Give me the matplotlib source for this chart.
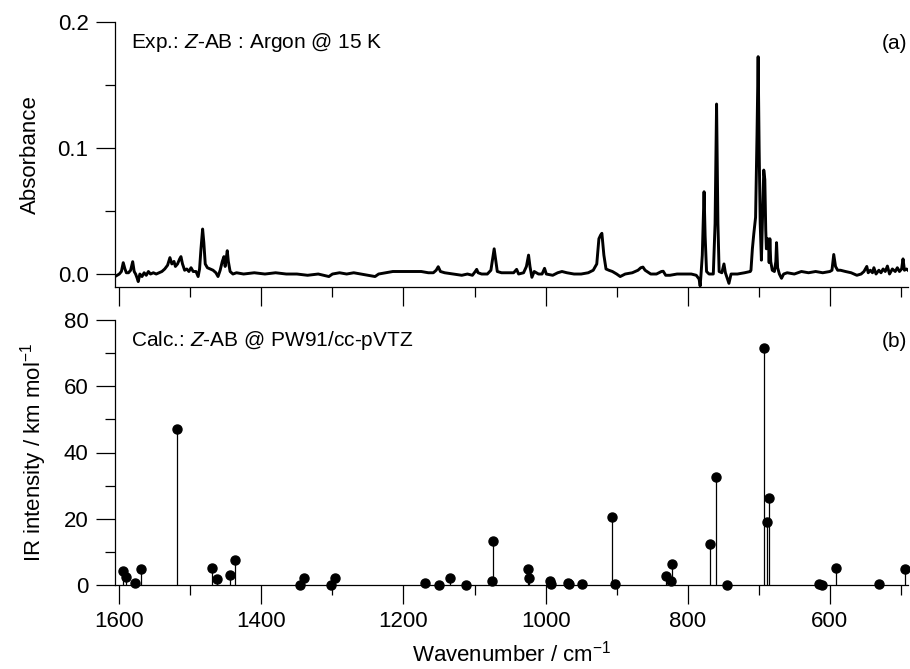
import matplotlib
matplotlib.use("Agg")
import matplotlib.pyplot as plt
from matplotlib.ticker import MultipleLocator

plt.rcParams['font.family'] = ['Liberation Sans', 'DejaVu Sans']
plt.rcParams['mathtext.fontset'] = 'custom'
plt.rcParams['mathtext.rm'] = 'Liberation Sans'
plt.rcParams['mathtext.it'] = 'Liberation Sans:italic'

# ---- experimental spectrum (traced points: wavenumber, absorbance) ----
exp_wavenumber = [
    1606, 1600, 1597, 1594.4, 1592, 1590, 1587, 1584, 1581.1, 1579, 1577, 1575, 1573.3,
    1571, 1568, 1565, 1562, 1559, 1556, 1552, 1548, 1544, 1540, 1536, 1532, 1528.7,
    1526, 1523, 1521, 1518, 1515, 1513.2, 1511, 1508, 1505, 1502, 1499, 1496, 1492,
    1489, 1487, 1485, 1482.7, 1481, 1479, 1476, 1472, 1468, 1464, 1461, 1458, 1455,
    1452.7, 1451, 1449.5, 1448, 1446.5, 1444, 1440, 1435, 1425, 1410, 1395, 1380,
    1365, 1350, 1335, 1320, 1305, 1300, 1290, 1280, 1270, 1260, 1250, 1240, 1235,
    1225, 1215, 1200, 1185, 1175, 1165, 1158, 1154, 1151.1, 1148, 1142, 1130, 1118,
    1110, 1103, 1099, 1097, 1095, 1090, 1082, 1077, 1074.5, 1072.4, 1070, 1068, 1062,
    1050, 1045, 1040.8, 1038, 1031, 1027, 1024, 1022, 1019.3, 1016, 1010, 1005, 1001.5,
    999, 990, 983, 977, 970, 960, 950, 940, 933, 928, 925, 922.5, 920.8, 918, 915, 911,
    906, 900, 895, 888, 878, 870, 866, 863, 860, 852, 844, 837, 834.5, 831, 825, 815,
    805, 795, 788, 784, 782.5, 781, 779.5, 777, 775.5, 773.5, 770, 764, 761.5, 759.4,
    757.5, 755.8, 752, 749, 747, 742, 739, 730, 720, 712, 711, 709, 707, 704.5, 702.5,
    700.9, 699.5, 698, 696.3, 695, 693, 691.5, 690.2, 689.3, 687.5, 686.3, 685.4, 684.4,
    683.2, 681, 678, 676, 675, 673.5, 671, 668, 665, 660, 650, 640, 630, 620, 610, 600,
    597, 594.5, 592, 589, 585, 578, 570, 562, 556, 552, 548, 546, 543, 540, 538, 535,
    531, 528, 525, 522, 519, 516, 512, 508, 505, 502, 499, 497, 495, 492, 490]
exp_absorbance = [
    -0.002, 0.000, 0.002, 0.009, 0.004, 0.001, 0.001, 0.003, 0.0098, 0.002, 0.000, -0.003, -0.006,
    0.000, -0.002, 0.001, -0.001, 0.002, 0.000, 0.001, 0.000, 0.001, 0.002, 0.004, 0.007, 0.013,
    0.008, 0.010, 0.006, 0.008, 0.012, 0.0138, 0.008, 0.003, 0.004, 0.002, 0.005, 0.002, 0.002,
    -0.002, 0.004, 0.020, 0.0357, 0.025, 0.008, 0.005, 0.004, 0.003, 0.001, -0.002, 0.003, 0.010,
    0.0138, 0.006, 0.012, 0.0185, 0.010, 0.002, 0.000, 0.001, 0.000, 0.001, 0.000, 0.001,
    0.000, 0.000, -0.001, 0.000, -0.002, 0.000, 0.001, 0.000, 0.001, 0.000, -0.001, -0.002, 0.000,
    0.001, 0.002, 0.002, 0.002, 0.002, 0.001, 0.001, 0.003, 0.0058, 0.002, 0.001, 0.000, -0.001,
    0.000, -0.001, 0.002, 0.0037, 0.001, 0.000, 0.000, 0.003, 0.012, 0.020, 0.010, 0.002, 0.001,
    0.001, 0.001, 0.0037, 0.000, 0.001, 0.006, 0.015, 0.006, -0.0026, 0.002, 0.000, 0.000, 0.0045,
    0.000, -0.001, 0.001, 0.002, 0.001, 0.000, 0.000, 0.001, 0.003, 0.008, 0.028, 0.031, 0.0323, 0.015, 0.004, 0.003,
    0.002, 0.000, -0.002, 0.000, 0.001, 0.003, 0.005, 0.0055, 0.003, 0.000, 0.000, 0.002, 0.0022, -0.001, -0.001, 0.000,
    0.000, 0.000, -0.001, -0.004, -0.0095, 0.002, 0.015, 0.0653, 0.030, 0.002, 0.000, 0.000, 0.040, 0.1349,
    0.040, 0.002, 0.001, 0.008, 0.001, -0.0074, 0.000, 0.000, 0.001, 0.002, 0.003, 0.020, 0.032, 0.045, 0.110,
    0.1725, 0.100, 0.040, 0.011, 0.040, 0.0825, 0.075, 0.035, 0.020, 0.028, 0.025, 0.009, 0.028,
    0.010, 0.003, 0.002, 0.010, 0.0249, 0.005, 0.000, -0.0034, 0.000, 0.001, 0.000, 0.002, 0.001, 0.002, 0.001, 0.002,
    0.003, 0.0155, 0.006, 0.003, 0.003, 0.002, 0.001, -0.001, 0.000, 0.002, 0.006, 0.001, 0.003, 0.001, 0.005, 0.000,
    0.003, 0.001, 0.004, 0.002, 0.0063, 0.000, 0.004, 0.002, 0.005, 0.002, 0.004, 0.012, 0.003, 0.004, 0.003]

# ---- calculated stick spectrum ----
calc_wavenumber = [1595.2, 1590.6, 1577.5, 1569.9, 1519.2, 1469.1, 1462.5, 1444.2, 1437.6,
                   1346.2, 1339.7, 1301.7, 1296.1, 1170.3, 1150.2, 1135.1, 1111.7, 1076.0,
                   1073.8, 1024.5, 1023.5, 993.5, 992.5, 968.5, 967.5, 949.0, 906.7, 902.1,
                   831.2, 824.2, 821.9, 768.4, 760.0, 745.4, 692.4, 688.2, 686.3, 615.5,
                   610.8, 591.6, 530.6, 494.5]
calc_intensity = [4.3, 2.3, 0.5, 4.9, 47.1, 5.0, 1.7, 3.1, 7.5,
                  0.0, 2.2, 0.0, 2.0, 0.5, 0.1, 2.1, 0.1, 1.2,
                  13.2, 4.7, 2.1, 1.2, 0.3, 0.5, 0.2, 0.3, 20.6, 0.2,
                  2.6, 1.2, 6.2, 12.5, 32.7, 0.0, 71.6, 19.1, 26.4, 0.3,
                  0.0, 5.0, 0.2, 4.7]

xticks_major = [1600, 1400, 1200, 1000, 800, 600]

W, H = 910, 669
fig = plt.figure(figsize=(W / 100, H / 100), dpi=100)
L, R = 115, 908
ax1 = fig.add_axes([L / W, 1 - 287 / H, (R - L) / W, (287 - 22) / H])
ax2 = fig.add_axes([L / W, 1 - 585 / H, (R - L) / W, (585 - 320) / H])

ax1.plot(exp_wavenumber, exp_absorbance, color='black', lw=2.1, solid_joinstyle='round')
ax1.set_xlim(1606, 490)
ax1.set_ylim(-0.0103, 0.2)
ax1.yaxis.set_major_locator(MultipleLocator(0.1))
ax1.yaxis.set_minor_locator(MultipleLocator(0.05))
ax1.set_ylabel('Absorbance', fontsize=16, labelpad=12)
ax1.tick_params(axis='x', labelbottom=False)

ax2.vlines(calc_wavenumber, 0, calc_intensity, color='black', lw=0.9)
ax2.plot(calc_wavenumber, calc_intensity, 'o', color='black', ms=6.5, clip_on=False, zorder=3)
ax2.set_xlim(1606, 490)
ax2.set_ylim(0, 80)
ax2.yaxis.set_major_locator(MultipleLocator(20))
ax2.yaxis.set_minor_locator(MultipleLocator(10))
ax2.set_ylabel('IR intensity / km mol$^{-1}$', fontsize=16, labelpad=11)
ax2.set_xlabel('Wavenumber / cm$^{-1}$', fontsize=16, labelpad=6)

for ax in (ax1, ax2):
    ax.set_xticks(xticks_major)
    ax.xaxis.set_minor_locator(MultipleLocator(100))
    for s in ('top', 'right'):
        ax.spines[s].set_visible(False)
    for s in ('left', 'bottom'):
        ax.spines[s].set_linewidth(0.9)
    ax.tick_params(which='major', direction='out', length=14, width=0.9, labelsize=16, pad=5)
    ax.tick_params(which='minor', direction='out', length=7, width=0.9)

ax1.text(0.02, 0.965, 'Exp.: $\\mathit{Z}$-AB : Argon @ 15 K', transform=ax1.transAxes,
         fontsize=15, ha='left', va='top')
ax1.text(0.999, 0.955, '(a)', transform=ax1.transAxes, fontsize=15, ha='right', va='top')
ax2.text(0.02, 0.965, 'Calc.: $\\mathit{Z}$-AB @ PW91/cc-pVTZ', transform=ax2.transAxes,
         fontsize=15, ha='left', va='top')
ax2.text(0.999, 0.955, '(b)', transform=ax2.transAxes, fontsize=15, ha='right', va='top')

fig.savefig('out.png', dpi=100)
